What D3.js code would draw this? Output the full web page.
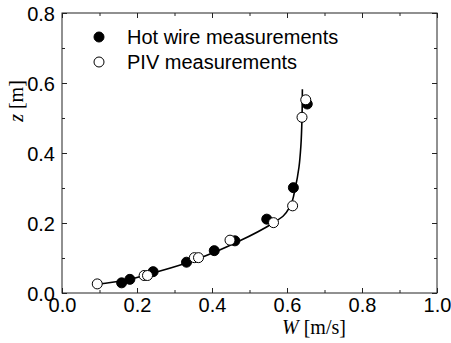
<!DOCTYPE html>
<html>
<head>
<meta charset="utf-8">
<script src="https://cdn.jsdelivr.net/npm/d3@7"></script>
<style>
  body { margin: 0; background: #fff; }
  svg { display: block; }
  .axis text { font-family: Arial, "Liberation Sans", sans-serif; font-size: 20px; fill: #000; }
  .axis path, .axis line { stroke: #222; stroke-width: 1; }
  .title { font-family: "Times New Roman", "Liberation Serif", serif; font-size: 20px; }
  .legend text { font-family: Arial, "Liberation Sans", sans-serif; font-size: 20px; }
</style>
</head>
<body>
<svg width="451" height="343"></svg>
<script>
// hot wire points (W in m/s, z in m)
const hotW = [0.159, 0.181, 0.243, 0.332, 0.406, 0.461, 0.546, 0.617, 0.654];
const hotZ = [0.029, 0.039, 0.061, 0.088, 0.121, 0.149, 0.211, 0.301, 0.540];
// PIV points
const pivW = [0.094, 0.219, 0.228, 0.353, 0.364, 0.448, 0.564, 0.615, 0.640, 0.650];
const pivZ = [0.026, 0.050, 0.050, 0.101, 0.101, 0.151, 0.201, 0.249, 0.502, 0.552];
// fitted profile
const fitW = [0.094, 0.160, 0.245, 0.330, 0.410, 0.470, 0.560, 0.590, 0.608, 0.622, 0.632, 0.637, 0.640, 0.641];
const fitZ = [0.025, 0.035, 0.058, 0.085, 0.118, 0.147, 0.198, 0.220, 0.247, 0.300, 0.360, 0.420, 0.500, 0.582];

const xTicks = [0, 0.2, 0.4, 0.6, 0.8, 1.0];
const xMinor = [0.1, 0.3, 0.5, 0.7, 0.9];
const yTicks = [0, 0.2, 0.4, 0.6, 0.8];
const yMinor = [0.1, 0.3, 0.5, 0.7];

const legendLabels = ['Hot wire measurements', 'PIV measurements'];

const plotLeft = 62, plotRight = 437, plotTop = 13, plotBottom = 293;
const majorLen = 5, minorLen = 3, markerR = 5;

const svg = d3.select('svg');

const x = d3.scaleLinear().domain([0, 1]).range([plotLeft, plotRight]);
const y = d3.scaleLinear().domain([0, 0.8]).range([plotBottom, plotTop]);

function drawAxes(){
  // frame
  svg.append('rect')
     .attr('x', plotLeft).attr('y', plotTop)
     .attr('width', plotRight - plotLeft).attr('height', plotBottom - plotTop)
     .attr('fill', 'none').attr('stroke', '#222');

  const fmt = d3.format('.1f');

  const gb = svg.append('g').attr('class', 'axis')
     .attr('transform', 'translate(0,' + plotBottom + ')')
     .call(d3.axisBottom(x).tickValues(xTicks).tickFormat(fmt).tickSize(-majorLen).tickPadding(5));
  gb.append('g').call(d3.axisBottom(x).tickValues(xMinor).tickFormat('').tickSize(-minorLen));

  const gt = svg.append('g').attr('class', 'axis')
     .attr('transform', 'translate(0,' + plotTop + ')')
     .call(d3.axisTop(x).tickValues(xTicks).tickFormat('').tickSize(-majorLen));
  gt.append('g').call(d3.axisTop(x).tickValues(xMinor).tickFormat('').tickSize(-minorLen));

  const gl = svg.append('g').attr('class', 'axis')
     .attr('transform', 'translate(' + plotLeft + ',0)')
     .call(d3.axisLeft(y).tickValues(yTicks).tickFormat(fmt).tickSize(-majorLen).tickPadding(7));
  gl.append('g').call(d3.axisLeft(y).tickValues(yMinor).tickFormat('').tickSize(-minorLen));

  const gr = svg.append('g').attr('class', 'axis')
     .attr('transform', 'translate(' + plotRight + ',0)')
     .call(d3.axisRight(y).tickValues(yTicks).tickFormat('').tickSize(-majorLen));
  gr.append('g').call(d3.axisRight(y).tickValues(yMinor).tickFormat('').tickSize(-minorLen));

  svg.selectAll('.axis .domain').remove();
  gl.selectAll('.tick text').attr('dy', '0.36em');

  // axis titles
  const xt = svg.append('text').attr('class', 'title')
     .attr('x', 282).attr('y', 334);
  xt.append('tspan').attr('font-style', 'italic').text('W');
  xt.append('tspan').text(' [m/s]');

  const yt = svg.append('text').attr('class', 'title')
     .attr('transform', 'translate(23,101) rotate(-90)')
     .attr('text-anchor', 'middle');
  yt.append('tspan').attr('font-style', 'italic').text('z');
  yt.append('tspan').text(' [m]');
}

function drawData(){
  const fit = fitW.map((w, i) => [w, fitZ[i]]);
  svg.append('path')
     .datum(fit)
     .attr('fill', 'none')
     .attr('stroke', '#000')
     .attr('stroke-width', 1.6)
     .attr('d', d3.line().x(d => x(d[0])).y(d => y(d[1])).curve(d3.curveMonotoneY));

  svg.append('g').selectAll('circle')
     .data(hotW.map((w, i) => [w, hotZ[i]]))
     .enter().append('circle')
     .attr('cx', d => x(d[0])).attr('cy', d => y(d[1])).attr('r', markerR)
     .attr('fill', '#000').attr('stroke', '#000');

  svg.append('g').selectAll('circle')
     .data(pivW.map((w, i) => [w, pivZ[i]]))
     .enter().append('circle')
     .attr('cx', d => x(d[0])).attr('cy', d => y(d[1])).attr('r', markerR)
     .attr('fill', '#fff').attr('stroke', '#000').attr('stroke-width', 1);
}

function drawLegend(){
  const lg = svg.append('g').attr('class', 'legend');
  const fills = ['#000', '#fff'];
  legendLabels.forEach(function(label, i){
    const by = 44 + i * 25;
    lg.append('circle')
      .attr('cx', 99).attr('cy', by - 7).attr('r', markerR)
      .attr('fill', fills[i]).attr('stroke', '#000');
    lg.append('text').attr('x', 127).attr('y', by).text(label);
  });
}

drawAxes();
drawData();
drawLegend();
</script>
</body>
</html>
